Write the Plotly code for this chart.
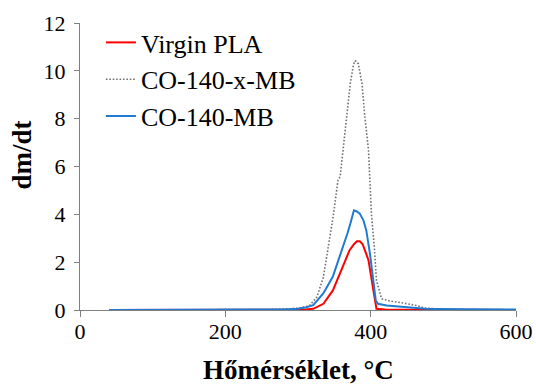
import plotly.graph_objects as go

# Virgin PLA
t_pla = [40, 100, 200, 280, 300, 310, 321, 335, 348, 362, 371, 377, 381, 385, 389, 392, 397, 403, 408, 420, 480, 600]
v_pla = [0, 0, 0, 0, 0.01, 0.02, 0.05, 0.26, 0.82, 1.8, 2.5, 2.75, 2.87, 2.87, 2.75, 2.5, 2.08, 0.96, 0.05, 0.02, 0.01, 0]

# CO-140-x-MB
t_x = [40, 100, 200, 260, 290, 305, 316, 326, 335, 342, 349, 355, 358, 362, 367, 372, 376, 378, 380, 383, 388, 392, 397, 399, 401, 405, 408, 415, 427, 445, 463, 475, 500, 600]
v_x = [0, 0, 0.01, 0.02, 0.05, 0.1, 0.19, 0.54, 1.38, 2.63, 4.03, 5.43, 5.57, 6.69, 8.08, 9.48, 10.2, 10.42, 10.4, 10.3, 9.48, 8.08, 6.69, 5.4, 4.03, 2.63, 1.24, 0.47, 0.37, 0.29, 0.19, 0.08, 0.03, 0.01]

# CO-140-MB
t_mb = [40, 100, 200, 280, 300, 310, 321, 335, 348, 355, 362, 368, 372, 377, 381, 385, 390, 394, 399, 404, 407, 410, 415, 422, 430, 445, 475, 520, 600]
v_mb = [0, 0, 0.01, 0.02, 0.05, 0.1, 0.2, 0.7, 1.4, 2.0, 2.63, 3.2, 3.61, 4.17, 4.12, 4.03, 3.75, 3.33, 2.36, 1.24, 0.4, 0.26, 0.22, 0.19, 0.17, 0.12, 0.05, 0.03, 0.02]

x_ticks = [0, 200, 400, 600]
y_ticks = [0, 2, 4, 6, 8, 10, 12]

FONT = "Liberation Serif, Times New Roman, DejaVu Serif, serif"

fig = go.Figure()
fig.add_trace(go.Scatter(x=t_pla, y=v_pla, mode="lines", name="Virgin PLA",
                         line=dict(color="#ff0000", width=2)))
fig.add_trace(go.Scatter(x=t_x, y=v_x, mode="lines", name="CO-140-x-MB",
                         line=dict(color="#707070", width=1.6, dash="1.6px,1.8px")))
fig.add_trace(go.Scatter(x=t_mb, y=v_mb, mode="lines", name="CO-140-MB",
                         line=dict(color="#1f7ad0", width=2)))

axis_common = dict(showgrid=False, zeroline=False, showline=True, linecolor="#808080",
                   linewidth=1, ticks="outside", tickcolor="#808080", tickwidth=1,
                   automargin=False,
                   tickfont=dict(family=FONT, size=22, color="black"))

fig.update_xaxes(range=[0, 600], tickvals=x_ticks, ticklen=6, ticklabelstandoff=-4, **axis_common)
fig.update_yaxes(range=[0, 12], tickvals=y_ticks, ticklen=5, ticklabelstandoff=4, **axis_common)

fig.update_layout(
    width=536, height=388,
    margin=dict(l=80, r=20, t=23, b=78),
    plot_bgcolor="white", paper_bgcolor="white",
    font=dict(family=FONT, color="black"),
    showlegend=True,
    legend=dict(x=0.048, y=1.014, xanchor="left", yanchor="top",
                font=dict(family=FONT, size=26, color="black"),
                bgcolor="rgba(0,0,0,0)", borderwidth=0),
    annotations=[
        dict(text="<b>Hőmérséklet, °C</b>", xref="paper", yref="paper", x=0.5, y=-0.21,
             xanchor="center", yanchor="middle", showarrow=False,
             font=dict(family=FONT, size=27, color="black")),
        dict(text="<b>dm/dt</b>", xref="paper", yref="paper", x=-0.133, y=0.538,
             xanchor="center", yanchor="middle", showarrow=False, textangle=-90,
             font=dict(family=FONT, size=27, color="black")),
    ],
)

fig.write_html("out.html", config={"displayModeBar": False},
               post_script="document.body.style.margin='0';")
